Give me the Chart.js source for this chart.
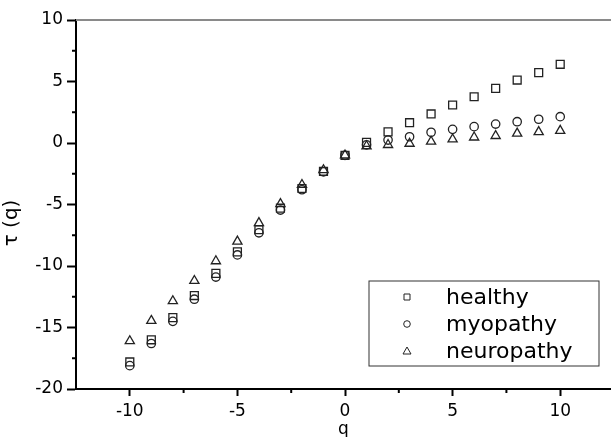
<!DOCTYPE html>
<html>
<head>
<meta charset="utf-8">
<script src="https://cdn.jsdelivr.net/npm/chart.js@4/dist/chart.umd.min.js"></script>
<style>
  html, body { margin: 0; padding: 0; background: #fff; }
  #wrap { width: 611px; height: 437px; }
</style>
</head>
<body>
<div id="wrap"><canvas id="chart"></canvas></div>
<script>
// q values and tau(q) for each group
const qValues = [-10, -9, -8, -7, -6, -5, -4, -3, -2, -1, 0, 1, 2, 3, 4, 5, 6, 7, 8, 9, 10];
const healthy = [-17.8, -16.0, -14.2, -12.4, -10.6, -8.85, -7.05, -5.3, -3.7, -2.3, -1.0,
                 0.05, 0.9, 1.65, 2.36, 3.09, 3.76, 4.44, 5.12, 5.72, 6.4];
const myopathy = [-18.1, -16.3, -14.5, -12.7, -10.9, -9.1, -7.3, -5.45, -3.8, -2.35, -1.0,
                  -0.15, 0.24, 0.51, 0.87, 1.11, 1.33, 1.54, 1.73, 1.93, 2.14];
const neuropathy = [-16.1, -14.45, -12.85, -11.2, -9.6, -8.0, -6.5, -4.95, -3.4, -2.2, -1.0,
                    -0.25, -0.15, -0.05, 0.12, 0.3, 0.46, 0.58, 0.78, 0.9, 1.0];

const seriesNames = ['healthy', 'myopathy', 'neuropathy'];
const xTicks = [-10, -5, 0, 5, 10];
const yTicks = [-20, -15, -10, -5, 0, 5, 10];
const xMinorTicks = [-7.5, -2.5, 2.5, 7.5];
const yMinorTicks = [-17.5, -12.5, -7.5, -2.5, 2.5, 7.5];
const yTitle = 'τ (q)';

const toPoints = ys => ys.map((y, i) => ({ x: qValues[i], y: y }));
const markerColor = '#222';

function marker(style, radius) {
    return {
        showLine: false,
        pointStyle: style,
        pointRadius: radius,
        pointHoverRadius: radius,
        pointBorderWidth: 1.3,
        pointBorderColor: markerColor,
        pointBackgroundColor: 'rgba(0,0,0,0)'
    };
}

// minor ticks, top frame line, y title and the boxed legend
const extras = {
    id: 'extras',
    afterDraw(chart) {
        const { ctx, chartArea, scales } = chart;
        const line = (x1, y1, x2, y2) => {
            ctx.beginPath(); ctx.moveTo(x1, y1); ctx.lineTo(x2, y2); ctx.stroke();
        };
        ctx.save();
        ctx.strokeStyle = '#000';
        ctx.lineWidth = 2;
        xMinorTicks.forEach(v => {
            const px = scales.x.getPixelForValue(v);
            line(px, chartArea.bottom, px, chartArea.bottom + 4);
        });
        yMinorTicks.forEach(v => {
            const py = scales.y.getPixelForValue(v);
            line(chartArea.left - 4, py, chartArea.left, py);
        });
        ctx.strokeStyle = '#8a8a8a';
        line(chartArea.left, chartArea.top, chartArea.right, chartArea.top);

        // y axis title, sits a bit below the middle in the original
        ctx.save();
        ctx.translate(12, scales.y.getPixelForValue(-6.5));
        ctx.rotate(-Math.PI / 2);
        ctx.font = '20px "DejaVu Sans"';
        ctx.fillStyle = '#000';
        ctx.textAlign = 'center';
        ctx.textBaseline = 'middle';
        ctx.fillText(yTitle, 0, 0);
        ctx.restore();

        // legend box
        const boxR = chartArea.right - 12, boxB = chartArea.bottom - 23;
        const boxL = boxR - 230, boxT = boxB - 85;
        ctx.strokeStyle = '#333';
        ctx.lineWidth = 1;
        ctx.strokeRect(boxL, boxT, boxR - boxL, boxB - boxT);
        ctx.font = '22px "DejaVu Sans"';
        ctx.fillStyle = '#000';
        ctx.textBaseline = 'middle';
        chart.data.datasets.forEach((ds, i) => {
            const cy = boxT + 16 + i * 27;
            const mx = boxL + 38;
            ctx.strokeStyle = markerColor;
            ctx.lineWidth = 1;
            ctx.beginPath();
            if (ds.pointStyle === 'rect') {
                ctx.rect(mx - 3, cy - 3, 6, 6);
            } else if (ds.pointStyle === 'circle') {
                ctx.arc(mx, cy, 3.3, 0, Math.PI * 2);
            } else {
                ctx.moveTo(mx, cy - 4); ctx.lineTo(mx + 4, cy + 3); ctx.lineTo(mx - 4, cy + 3); ctx.closePath();
            }
            ctx.stroke();
            ctx.fillText(ds.label, boxL + 77, cy + 1);
        });
        ctx.restore();
    }
};

const tickFont = { family: '"DejaVu Sans"', size: 17 };

new Chart(document.getElementById('chart'), {
    type: 'scatter',
    data: {
        datasets: [
            Object.assign({ label: seriesNames[0], data: toPoints(healthy) }, marker('rect', 5.6)),
            Object.assign({ label: seriesNames[1], data: toPoints(myopathy) }, marker('circle', 4.2)),
            Object.assign({ label: seriesNames[2], data: toPoints(neuropathy) }, marker('triangle', 5.3))
        ]
    },
    options: {
        responsive: true,
        maintainAspectRatio: false,
        animation: false,
        layout: { autoPadding: false, padding: { top: 20, right: 0, left: 0, bottom: 0 } },
        plugins: { legend: { display: false }, tooltip: { enabled: false } },
        scales: {
            x: {
                type: 'linear',
                min: -12.5,
                max: 12.36,
                afterBuildTicks: s => { s.ticks = xTicks.map(v => ({ value: v })); },
                afterFit: s => { s.height = 48; },
                grid: { drawOnChartArea: false, tickLength: 7, tickColor: '#000', tickWidth: 2 },
                border: { color: '#000', width: 2 },
                ticks: { font: tickFont, color: '#000', padding: 5, maxRotation: 0 },
                title: { display: true, text: 'q', color: '#000', font: { family: '"DejaVu Sans"', size: 17 }, padding: { top: 0, bottom: -3 } }
            },
            y: {
                type: 'linear',
                min: -20,
                max: 10,
                afterBuildTicks: s => { s.ticks = yTicks.map(v => ({ value: v })); },
                afterFit: s => { s.width = 76; },
                grid: { drawOnChartArea: false, tickLength: 9, tickColor: '#000', tickWidth: 2 },
                border: { color: '#000', width: 2 },
                ticks: { font: tickFont, color: '#000', padding: 4 }
            }
        }
    },
    plugins: [extras]
});
</script>
</body>
</html>
